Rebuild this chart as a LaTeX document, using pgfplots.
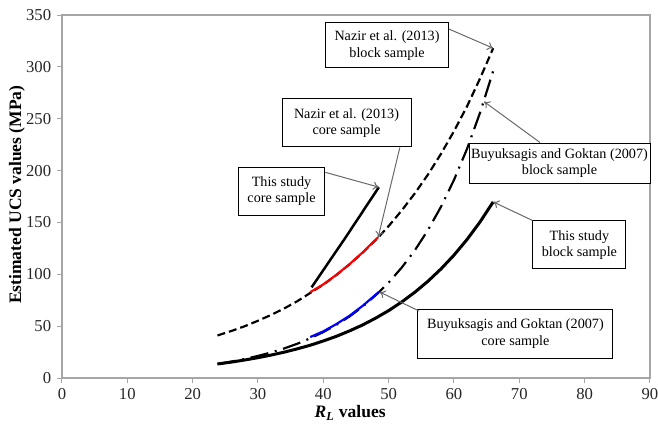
\documentclass[border=0pt]{standalone}
\usepackage{fontspec}
\setmainfont{Liberation Serif}
\usepackage{pgfplots}
\pgfplotsset{compat=1.18}
\usetikzlibrary{arrows.meta}
\definecolor{axgray}{RGB}{165,165,165}
\definecolor{argray}{RGB}{105,105,105}
\tikzset{
  box/.style={draw=black, line width=0.6pt, fill=white, align=center,
    font=\fontsize{8.5}{10}\selectfont, inner xsep=1pt, inner ysep=2pt},
  arr/.style={argray, line width=0.6pt, -{To[length=3.5pt,width=5pt]}},
}
\pgfplotstableread{
x y
23.8 41
26 45.5
28 50
30 55.2
32 60.8
34 67
36 74
38 82
40 90
42 99.3
44 109.5
46 120.7
48.4 135.5
50 146.5
52 161.5
54 178
56 196
58 216
60 238
62 262
64 289
66 318
}\nazirblock
\pgfplotstableread{
x y
38 82.8
40 90.3
42 99.5
44 109.7
46 121
48.4 135.8
}\nazircore
\pgfplotstableread{
x y
23.8 13.5
26 15.9
28 18.4
30 21.3
32 24.6
34 28.5
36 33
38 38.3
40 44.3
42 51.3
44 59.3
46 68.7
48.4 82
50 92
52 106.5
54 123
56 142.5
58 165
60 191
62 221
64 256
66 296
}\buyblock
\pgfplotstableread{
x y
38 39.5
40 45
42 52
44 60
46 69.5
48.5 83
}\buycore
\pgfplotstableread{
x y
23.8 13.5
26 15.4
28 17.4
30 19.6
32 22.1
34 24.9
36 28.1
38 31.6
40 35.7
42 40.2
44 45.4
46 51.1
48 57.7
50 65.0
52 73.3
54 82.7
56 93.2
58 105.1
60 118.5
62 133.6
64 150.6
66 169.8
}\studyblock
\pgfplotstableread{
x y
38.2 87.4
43.35 135
48.5 184
}\studycore
\begin{document}
\begin{tikzpicture}
\begin{axis}[
  at={(0pt,0pt)}, anchor=south west,
  scale only axis, width=352.8pt, height=217.8pt,
  xmin=0, xmax=90, ymin=0, ymax=350,
  xtick={0,10,...,90}, ytick={0,50,...,350},
  tick pos=left, tick align=outside, major tick length=3pt,
  axis line style={axgray, line width=0.8pt},
  tick style={axgray, line width=0.6pt},
  /pgf/number format/assume math mode=true,
  ticklabel style={font=\fontsize{10}{12}\selectfont, text=black!85},
  xlabel={\textbf{\textit{R}\textsubscript{\textit{L}} values}},
  ylabel={\textbf{Estimated UCS values (MPa)}},
  xlabel style={at={(axis description cs:0.49,0)}, anchor=center, yshift=-21pt, font=\fontsize{10.5}{12}\selectfont},
  ylabel style={at={(axis description cs:0,0.505)}, anchor=center, yshift=27pt, font=\fontsize{10.5}{12}\selectfont},
  clip=false,
]
\addplot[black, line width=1.3pt, dash pattern=on 4.8pt off 2.4pt] table {\nazirblock};
\addplot[black, line width=1.3pt, dash pattern=on 11pt off 4pt on 1.2pt off 4pt] table {\buyblock};
\addplot[black, line width=1.8pt] table {\studyblock};
\addplot[red, line width=1.3pt] table {\nazircore};
\addplot[blue, line width=1.3pt] table {\buycore};
\addplot[black, line width=1.5pt] table {\studycore};

\node[box, minimum width=74pt, minimum height=27pt] (nb) at (axis cs:49.75,320.6) {Nazir et al. (2013)\\block sample};
\node[box, minimum width=77.4pt, minimum height=28.8pt] (nc) at (axis cs:43.55,245.9) {Nazir et al. (2013)\\core sample};
\node[box, minimum width=52pt, minimum height=28.8pt] (tc) at (axis cs:33.6,180.3) {This study\\core sample};
\node[box, minimum width=108.6pt, minimum height=24pt] (bb) at (axis cs:76.15,207.3) {Buyuksagis and Goktan (2007)\\block sample};
\node[box, minimum width=55.8pt, minimum height=28.8pt] (tb) at (axis cs:79.2,128.3) {This study\\block sample};
\node[box, minimum width=117pt, minimum height=29.4pt] (bc) at (axis cs:69.4,42.9) {Buyuksagis and Goktan (2007)\\core sample};

\draw[arr] ([yshift=-4pt]nb.north east) -- (axis cs:66,318);
\draw[arr] ([xshift=-7pt]nc.south east) -- (axis cs:48.4,135.8);
\draw[arr] ([yshift=-3.5pt]tc.north east) -- (axis cs:48.5,184);
\draw[arr] ([xshift=-11.7pt]bb.north) -- (axis cs:64.6,266.5);
\draw[arr] (tb.north west) -- (axis cs:66,169.8);
\draw[arr] ([xshift=1pt,yshift=-1.5pt]bc.north west) -- (axis cs:48.6,83);
\end{axis}
\pgfresetboundingbox
\path[use as bounding box] (-37.2pt,-31.2pt) rectangle (357.6pt,226.8pt);
\end{tikzpicture}
\end{document}
